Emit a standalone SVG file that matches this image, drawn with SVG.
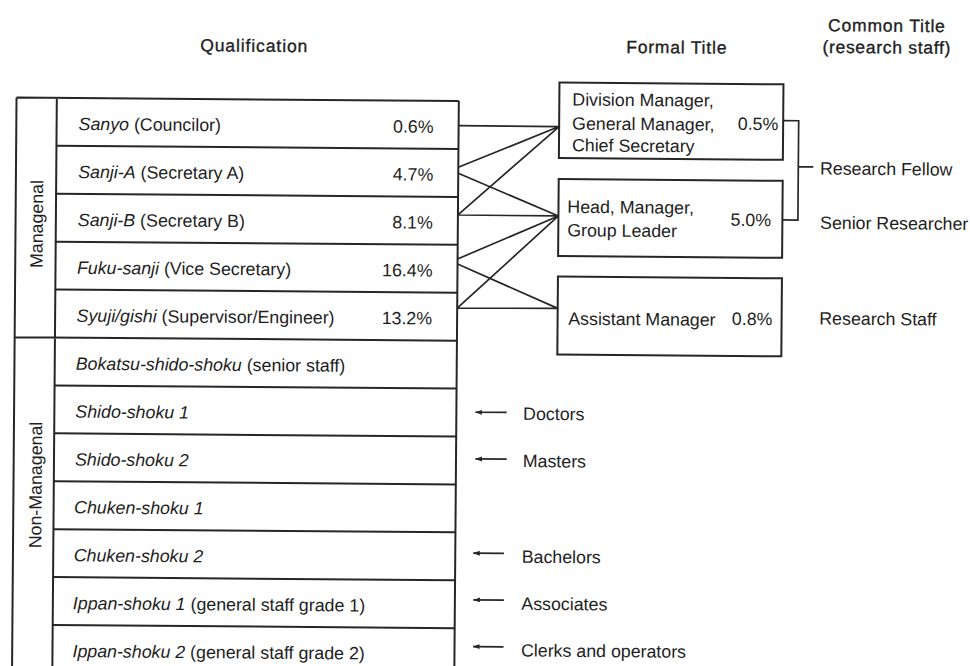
<svg xmlns="http://www.w3.org/2000/svg" width="970" height="666" viewBox="0 0 970 666">
<defs>
<style>
text{font-family:"Liberation Sans",Arial,Helvetica,sans-serif;font-size:17.8px;fill:#1e1e1e}
.it{font-style:italic}
.hd{font-size:17.5px;stroke:#1e1e1e;stroke-width:0.35}
.ln{stroke:#262626;stroke-width:2;fill:none}
.cn{stroke:#262626;stroke-width:1.7;fill:none}
.ar{stroke:#262626;stroke-width:1.7;fill:none;marker-start:url(#ah)}
.bx{stroke:#262626;stroke-width:2;fill:none}
.pc{text-anchor:end}
</style>
<marker id="ah" viewBox="0 0 7 6" refX="0.5" refY="3" markerWidth="7" markerHeight="6" markerUnits="userSpaceOnUse" orient="auto">
<path d="M0,3 L7,0.6 L7,5.4 Z" fill="#262626"/>
</marker>
</defs>
<rect width="970" height="666" fill="#fff"/>
<g transform="rotate(0.45 485 333)">
<g id="titles">
<text class="hd" x="252" y="53.5" text-anchor="middle" letter-spacing="0.9">Qualification</text>
<text class="hd" x="674.5" y="51.8" text-anchor="middle" letter-spacing="0.8">Formal Title</text>
<text class="hd" x="884.5" y="28.5" text-anchor="middle" letter-spacing="0.8">Common Title</text>
<text class="hd" x="884.5" y="50.2" text-anchor="middle" letter-spacing="0.7">(research staff)</text>
</g>
<g id="qualification-table">
<path class="ln" d="M14.7,101.2 H457 M14.7,101.2 V680 M55,101.2 V680 M457,101.2 V680 M14.7,340.9 H457"/>
<path class="ln" d="M55,149.1 H457 M55,197.1 H457 M55,245 H457 M55,292.9 H457 M55,388.8 H457 M55,436.7 H457 M55,484.6 H457 M55,532.6 H457 M55,580.5 H457 M55,628.4 H457"/>
<text x="42" y="227.5" transform="rotate(-90 42 227.5)" text-anchor="middle">Managenal</text>
<text x="42.9" y="488.5" transform="rotate(-90 42.9 488.5)" text-anchor="middle">Non-Managenal</text>
</g>
<g id="row-sanyo"><text x="77" y="133.2"><tspan class="it">Sanyo</tspan> (Councilor)</text><text class="pc" x="432" y="133.2">0.6%</text></g>
<g id="row-sanji-a"><text x="77" y="181.1"><tspan class="it">Sanji-A</tspan> (Secretary A)</text><text class="pc" x="432" y="181.1">4.7%</text></g>
<g id="row-sanji-b"><text x="77" y="229.1"><tspan class="it">Sanji-B</tspan> (Secretary B)</text><text class="pc" x="432" y="229.1">8.1%</text></g>
<g id="row-fuku-sanji"><text x="76.5" y="277"><tspan class="it">Fuku-sanji</tspan> (Vice Secretary)</text><text class="pc" x="432" y="277">16.4%</text></g>
<g id="row-syuji"><text x="76.5" y="324.9"><tspan class="it">Syuji/gishi</tspan> (Supervisor/Engineer)</text><text class="pc" x="432" y="324.9">13.2%</text></g>
<g id="row-bokatsu"><text x="76" y="372.9"><tspan class="it">Bokatsu-shido-shoku</tspan> (senior staff)</text></g>
<g id="row-shido-1"><text class="it" x="76" y="420.8">Shido-shoku 1</text></g>
<g id="row-shido-2"><text class="it" x="76" y="468.7">Shido-shoku 2</text></g>
<g id="row-chuken-1"><text class="it" x="75.5" y="516.6">Chuken-shoku 1</text></g>
<g id="row-chuken-2"><text class="it" x="75.5" y="564.6">Chuken-shoku 2</text></g>
<g id="row-ippan-1"><text x="75" y="612.5"><tspan class="it">Ippan-shoku 1</tspan> (general staff grade 1)</text></g>
<g id="row-ippan-2"><text x="75" y="660.4"><tspan class="it">Ippan-shoku 2</tspan> (general staff grade 2)</text></g>
<g id="box-division">
<rect class="bx" x="557.5" y="82" width="224" height="75.5"/>
<text x="570.5" y="104.9">Division Manager,</text>
<text x="570.5" y="128.9">General Manager,</text>
<text x="570.5" y="150.6">Chief Secretary</text>
<text class="pc" x="776.7" y="127.8">0.5%</text>
</g>
<g id="box-head">
<rect class="bx" x="557.5" y="178.5" width="224" height="77"/>
<text x="566.4" y="212.2">Head, Manager,</text>
<text x="566.4" y="235.6">Group Leader</text>
<text class="pc" x="770.2" y="223.9">5.0%</text>
</g>
<g id="box-assistant">
<rect class="bx" x="557.5" y="276" width="224" height="78"/>
<text x="568.2" y="324.1">Assistant Manager</text>
<text class="pc" x="772.3" y="322.9">0.8%</text>
</g>
<g id="common-titles">
<text x="818.7" y="171.9">Research Fellow</text>
<text x="819.2" y="226.2">Senior Researcher</text>
<text x="819.2" y="321.9">Research Staff</text>
</g>
<g id="degrees">
<text x="523.8" y="419.5">Doctors</text>
<text x="523.8" y="466.8">Masters</text>
<text x="523.5" y="562.5">Bachelors</text>
<text x="523.5" y="609.5">Associates</text>
<text x="523.5" y="656.2">Clerks and operators</text>
</g>
<g id="connectors">
<path class="cn" d="M457,125.9 L557.5,126 M457,167.5 L557.5,126 M457,173.5 L557.5,215.4 M457,215.2 L557.5,126 M457,215.2 L557.5,215.4 M457,259.2 L557.5,215.4 M457,264.2 L557.5,307.8 M457,308.3 L557.5,215.4 M457,308.3 L557.5,307.8"/>
<path class="cn" d="M781.5,118.3 H797 V217.6 H781.5 M797,164.3 H812"/>
<line class="ar" x1="476" y1="412.3" x2="507.3" y2="412.3"/>
<line class="ar" x1="476.5" y1="459" x2="507.7" y2="459"/>
<line class="ar" x1="475" y1="553.3" x2="505.7" y2="553.3"/>
<line class="ar" x1="475.5" y1="600" x2="506" y2="600"/>
<line class="ar" x1="475.5" y1="646.7" x2="506" y2="646.7"/>
</g>
</g>
</svg>
